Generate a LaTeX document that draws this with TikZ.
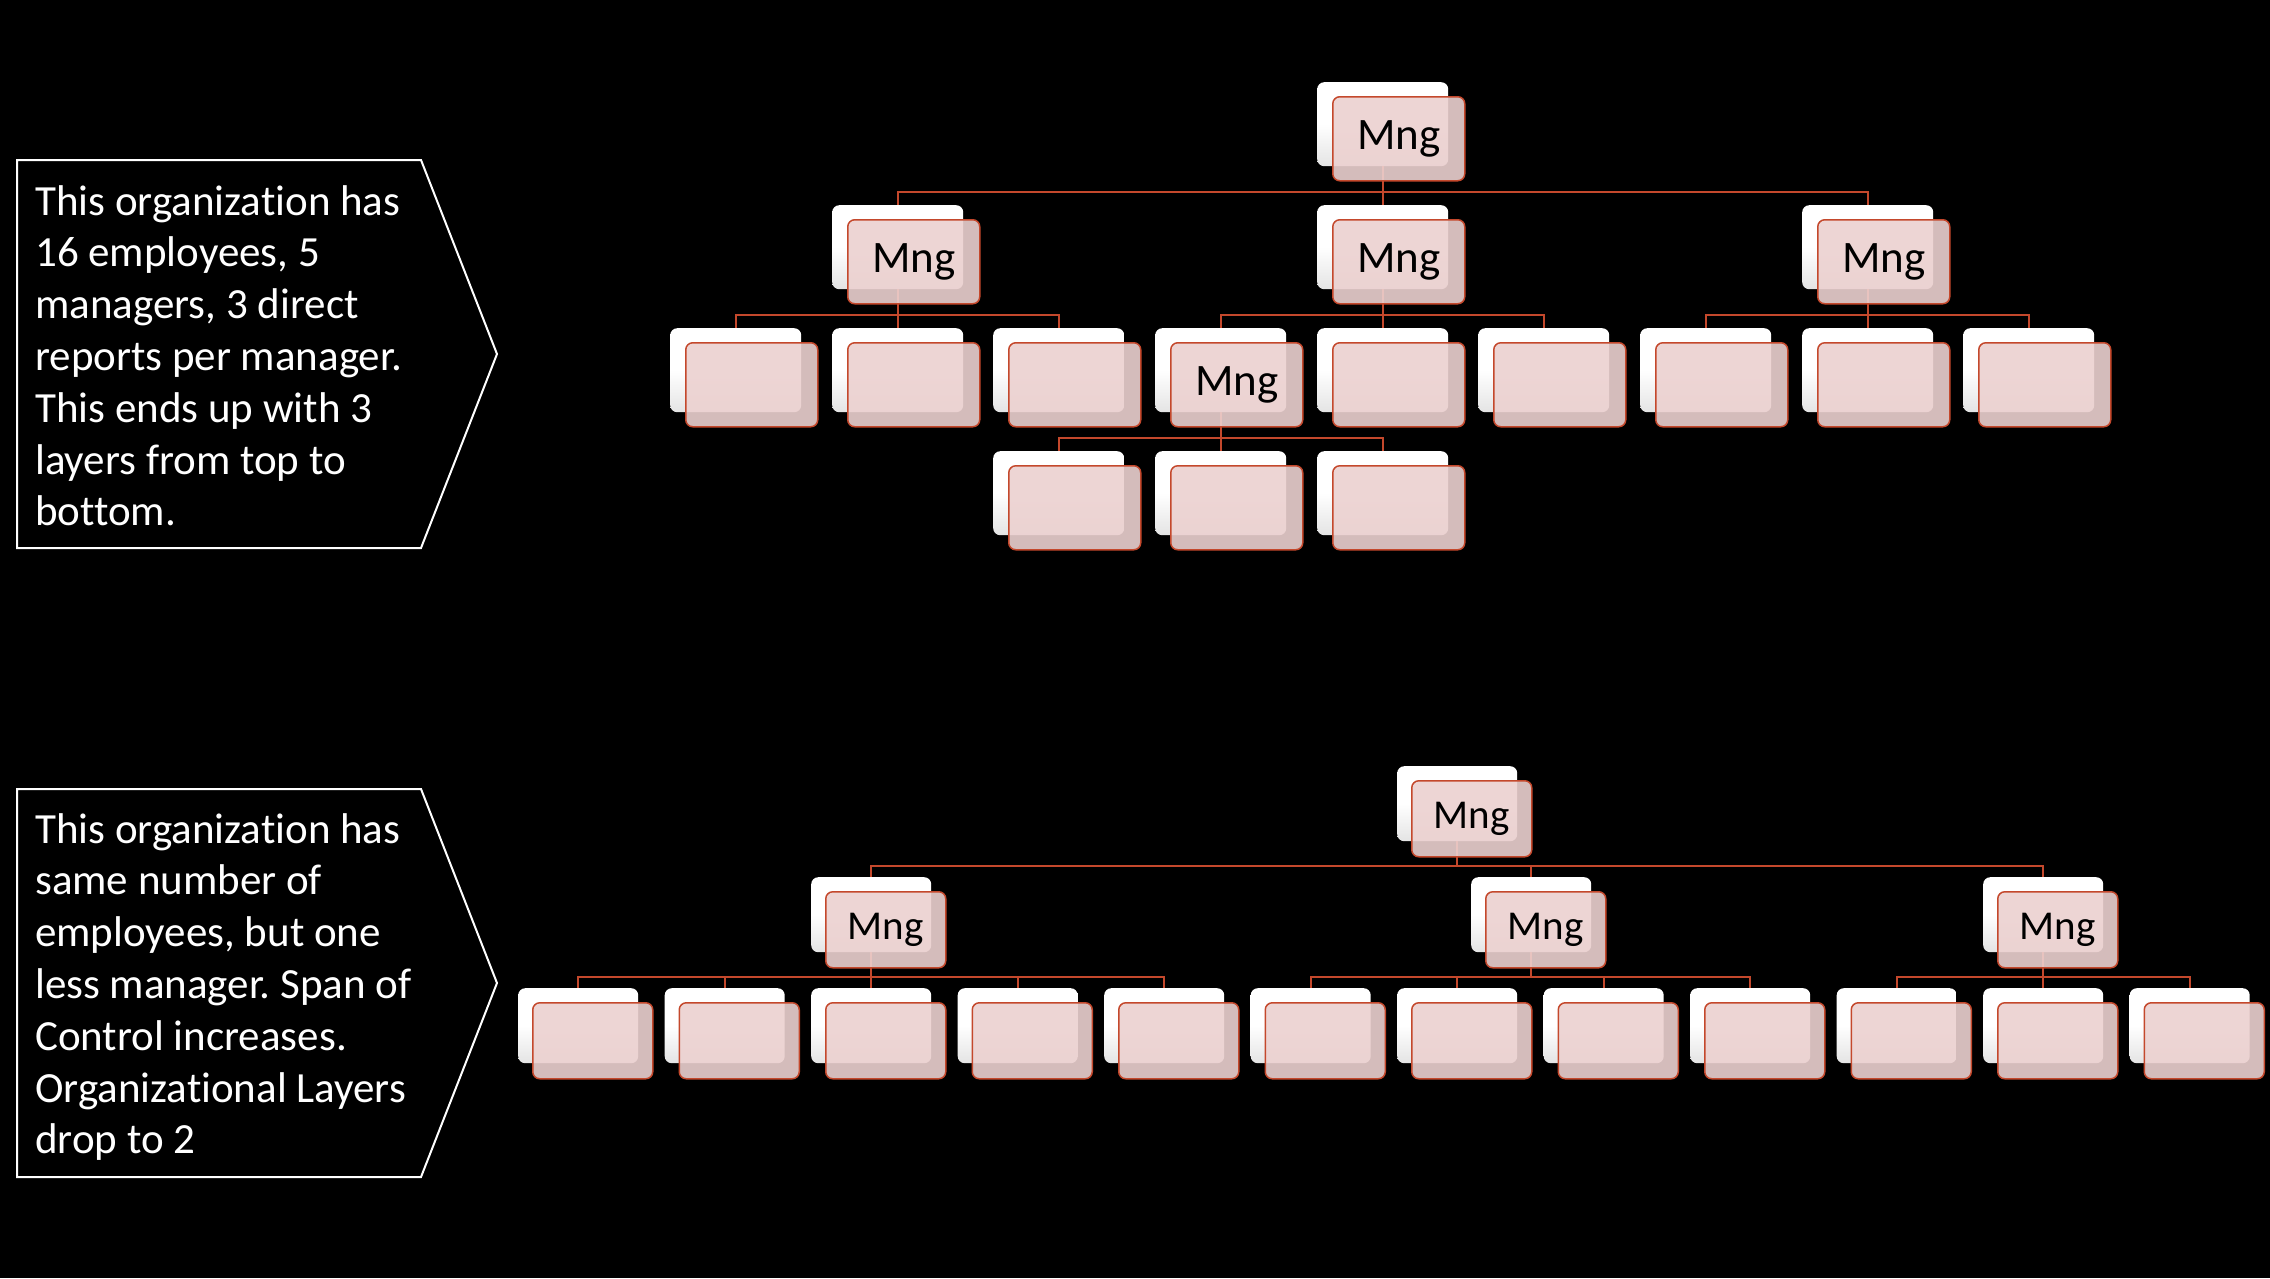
\documentclass[tikz,border=0pt]{standalone}
\usepackage{fontspec}
\setmainfont{Carlito}[Ligatures=NoCommon]
\frenchspacing
\definecolor{pinkc}{RGB}{236,209,208}
\definecolor{linec}{RGB}{196,72,44}
\definecolor{greyb}{RGB}{228,228,228}
\tikzset{
  wbox/.style={anchor=north west, inner sep=0pt, rounded corners=7pt,
    top color=white, bottom color=greyb, middle color=white, draw=none},
  pbox/.style={anchor=north west, inner sep=0pt, rounded corners=7pt,
    draw=linec, line width=1.5pt, fill=pinkc, fill opacity=0.9, text opacity=1,
    text=black},
  conn/.style={draw=linec, line width=2pt},
  txtbox/.style={draw=white, line width=2pt, fill=black},
  txt/.style={anchor=north west, inner sep=0pt, align=left, text=white,
    font=\fontsize{43}{51.8}\selectfont},
}
\newcommand\orgtree[3]{\foreach \c in {#3}{\draw[conn] (w#1.south) |- ([yshift=#2]w\c.north) -- (w\c.north);}}
\def\toplist{a0/1317/82/Mng,a1/832/205/Mng,a2/1317/205/Mng,a3/1802/205/Mng,b1/670/328/{},b2/832/328/{},b3/993/328/{},b4/1155/328/Mng,b5/1317/328/{},b6/1478/328/{},b7/1640/328/{},b8/1802/328/{},b9/1963/328/{},c1/993/451/{},c2/1155/451/{},c3/1317/451/{}}
\def\botlist{d0/1397/766/Mng,d1/811/877/Mng,d2/1471/877/Mng,d3/1983/877/Mng,e1/518/988/{},e2/664.5/988/{},e3/811/988/{},e4/957.5/988/{},e5/1104/988/{},e6/1250.5/988/{},e7/1397/988/{},e8/1543.5/988/{},e9/1690/988/{},e10/1836.5/988/{},e11/1983/988/{},e12/2129.5/988/{}}
\begin{document}
\begin{tikzpicture}[x=1pt,y=-1pt]
\useasboundingbox (0,0) rectangle (2270,1278);
\fill[black] (0,0) rectangle (2270,1278);
% text boxes
\draw[txtbox] (17,160) -- (421,160) -- (497,354) -- (421,548) -- (17,548) -- cycle;
\node[txt] (t1) at (35,185) {This organization has\\16 employees, 5\\managers, 3 direct\\reports per manager.\\This ends up with 3\\layers from top to\\bottom.};
\draw[txtbox] (17,789) -- (421,789) -- (497,983) -- (421,1177) -- (17,1177) -- cycle;
\node[txt] (t2) at (35,813) {This organization has\\same number of\\employees, but one\\less manager. Span of\\Control increases.\\Organizational Layers\\drop to 2};
% white back boxes
\foreach \n/\x/\y/\t in \toplist {\node[wbox, minimum width=131pt, minimum height=84pt] (w\n) at (\x,\y) {};}
\foreach \n/\x/\y/\t in \botlist {\node[wbox, minimum width=120pt, minimum height=75pt] (w\n) at (\x,\y) {};}
% connectors
\orgtree{a0}{13pt}{a1,a2,a3}
\orgtree{a1}{13pt}{b1,b2,b3}
\orgtree{a2}{13pt}{b4,b5,b6}
\orgtree{a3}{13pt}{b7,b8,b9}
\orgtree{b4}{13pt}{c1,c2,c3}
\orgtree{d0}{11pt}{d1,d2,d3}
\orgtree{d1}{11pt}{e1,e2,e3,e4,e5}
\orgtree{d2}{11pt}{e6,e7,e8,e9}
\orgtree{d3}{11pt}{e10,e11,e12}
% pink front boxes
\foreach \n/\x/\y/\t in \toplist {\node[pbox, minimum width=132pt, minimum height=84pt, font=\fontsize{45}{50}\selectfont] (p\n) at (\x+15,\y+14) {\t};}
\foreach \n/\x/\y/\t in \botlist {\node[pbox, minimum width=120pt, minimum height=76pt, font=\fontsize{41}{46}\selectfont] (p\n) at (\x+14,\y+14) {\t};}
\end{tikzpicture}
\end{document}
